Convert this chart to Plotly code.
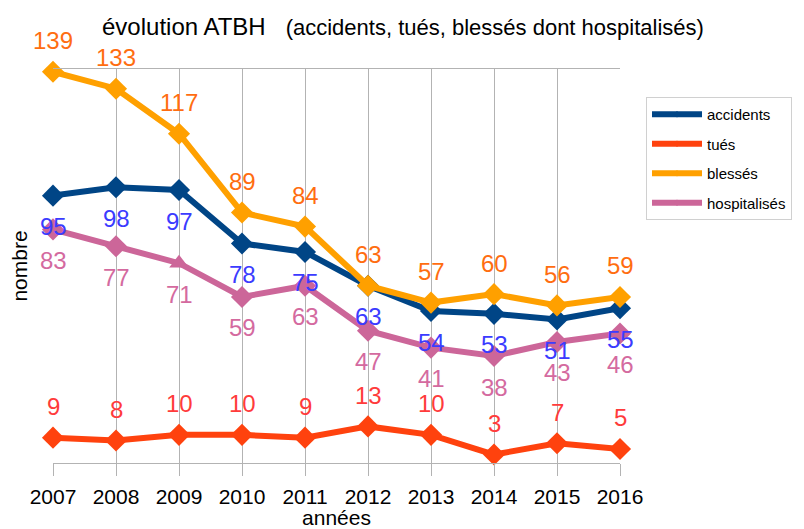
import plotly.graph_objects as go

years = [2007, 2008, 2009, 2010, 2011, 2012, 2013, 2014, 2015, 2016]
accidents = [95, 98, 97, 78, 75, 63, 54, 53, 51, 55]
tues = [9, 8, 10, 10, 9, 13, 10, 3, 7, 5]
blesses = [139, 133, 117, 89, 84, 63, 57, 60, 56, 59]
hospitalises = [83, 77, 71, 59, 63, 47, 41, 38, 43, 46]

series = [
    ("accidents", accidents, "#004586", "#3b3bff", -1),
    ("tués", tues, "#ff420e", "#ff3b3b", 1),
    ("blessés", blesses, "#ffa000", "#ff6d10", 1),
    ("hospitalisés", hospitalises, "#cc6699", "#d46a9f", -1),
]

hosp_symbols = ["diamond"] * len(years)
hosp_symbols[2] = "triangle-up"

FONT = "Liberation Sans, Arial, sans-serif"
W, H = 796, 521  # page body adds an 8px offset

fig = go.Figure()
annotations = []
for name, vals, col, lcol, side in series:
    sym = hosp_symbols if name == "hospitalisés" else "diamond"
    fig.add_trace(go.Scatter(
        x=years, y=vals, name=name, mode="lines+markers",
        line=dict(color=col, width=6),
        marker=dict(symbol=sym, size=17, color=col),
        cliponaxis=False, showlegend=False,
    ))
    for x, v in zip(years, vals):
        annotations.append(dict(
            x=x, y=v, xref="x", yref="y", text=str(v), showarrow=False,
            yshift=31 * side, font=dict(size=24, color=lcol, family=FONT),
        ))

# legend entries (small markers as in the reference legend)
for name, vals, col, lcol, side in series:
    fig.add_trace(go.Scatter(
        x=[None], y=[None], name=name, mode="lines+markers",
        line=dict(color=col, width=6),
        marker=dict(symbol="diamond", size=5, color=col),
        legendgroup=name, showlegend=True,
    ))

fig.update_layout(
    width=W, height=H,
    margin=dict(l=45, r=184, t=61, b=66),
    paper_bgcolor="white", plot_bgcolor="white",
    font=dict(family=FONT, color="#000000"),
    title=dict(
        text="évolution ATBH&nbsp;&nbsp;&nbsp;<span style='font-size:22px'>(accidents, tués, blessés dont hospitalisés)</span>",
        x=94 / W, xanchor="left", xref="container",
        y=1 - 19 / H, yanchor="middle",
        font=dict(size=24, color="#000000"),
    ),
    showlegend=True,
    legend=dict(
        x=(638 - 45) / 567, xanchor="left", y=1 - (89 - 61) / 394, yanchor="top",
        font=dict(size=15, color="#000000"),
        bordercolor="#d0d0d0", borderwidth=1, bgcolor="white",
        tracegroupgap=7, itemwidth=50,
    ),
    annotations=annotations,
)
fig.update_xaxes(
    range=[2007, 2016], tickmode="array", tickvals=years,
    ticktext=[str(y) for y in years],
    showgrid=True, gridcolor="#b3b3b3", gridwidth=1,
    showline=True, linecolor="#b3b3b3", linewidth=1, mirror=True,
    ticks="outside", ticklen=12, tickcolor="#b3b3b3",
    tickfont=dict(size=21, color="#000000"), ticklabelstandoff=3,
    title=dict(text="années", font=dict(size=21, color="#000000"), standoff=0),
    zeroline=False, automargin=False,
)
fig.update_yaxes(
    range=[0, 140], showgrid=False, showticklabels=False, zeroline=False,
    showline=False, ticks="", automargin=False,
    title=dict(text="nombre", font=dict(size=21, color="#000000"), standoff=20),
)

fig.write_html("out.html")
